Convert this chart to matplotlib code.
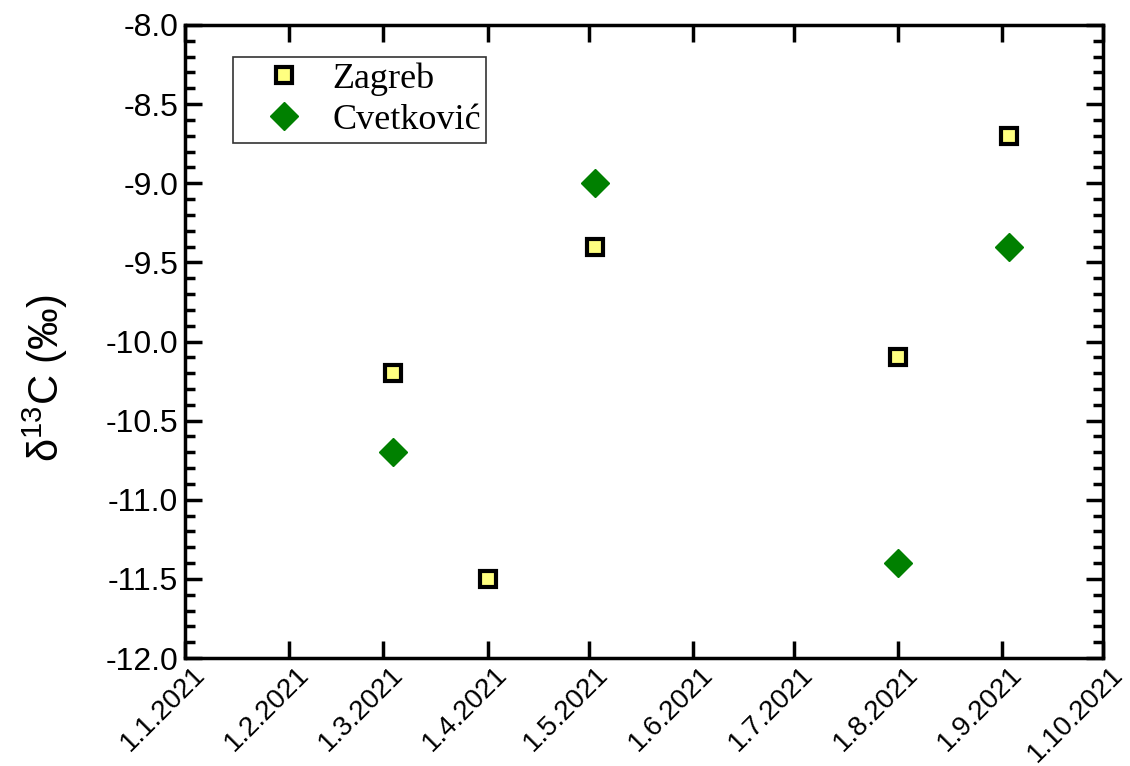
import datetime as dt
import matplotlib
matplotlib.use("Agg")
import matplotlib.pyplot as plt
import matplotlib.dates as mdates
import matplotlib.transforms as mtransforms
from matplotlib.ticker import MultipleLocator, FuncFormatter, FormatStrFormatter

plt.rcParams["mathtext.fontset"] = "custom"
plt.rcParams["mathtext.rm"] = "Liberation Sans"
plt.rcParams["mathtext.it"] = "Liberation Sans"

# data
zagreb_dates = ["2021-03-04", "2021-04-01", "2021-05-03", "2021-08-01", "2021-09-03"]
zagreb_d13c = [-10.2, -11.5, -9.4, -10.1, -8.7]
cvet_dates = ["2021-03-04", "2021-05-03", "2021-08-01", "2021-09-03"]
cvet_d13c = [-10.7, -9.0, -11.4, -9.4]
month_ticks = [dt.date(2021, m, 1) for m in range(1, 11)]


def to_dates(values):
    return [dt.datetime.strptime(v, "%Y-%m-%d") for v in values]


fig = plt.figure(figsize=(11.3, 7.66), dpi=100)
ax = fig.add_axes([185 / 1130, 1 - 658 / 766, 918 / 1130, 633 / 766])

ax.plot(to_dates(zagreb_dates), zagreb_d13c, linestyle="none", marker="s",
        markersize=11, markerfacecolor="#ffff80", markeredgecolor="black",
        markeredgewidth=3, label="Zagreb")
ax.plot(to_dates(cvet_dates), cvet_d13c, linestyle="none", marker="D",
        markersize=14, color="#008000", label="Cvetković")

ax.set_xlim(dt.date(2021, 1, 1), dt.date(2021, 10, 1))
ax.set_ylim(-12.0, -8.0)
ax.set_xticks(month_ticks)
ax.xaxis.set_major_formatter(
    FuncFormatter(lambda x, pos: "{0.day}.{0.month}.{0.year}".format(mdates.num2date(x))))
ax.yaxis.set_major_locator(MultipleLocator(0.5))
ax.yaxis.set_minor_locator(MultipleLocator(0.1))
ax.yaxis.set_major_formatter(FormatStrFormatter("%.1f"))

for side in ax.spines.values():
    side.set_linewidth(2.5)
ax.tick_params(which="both", direction="in", top=True, right=True, width=2.5)
ax.tick_params(which="major", length=12)
ax.tick_params(which="minor", length=7)
ax.tick_params(axis="y", labelsize=23, pad=5)
ax.tick_params(axis="x", labelsize=20, pad=9)

# rotated date labels sit a bit to the right of their ticks
shift = mtransforms.ScaledTranslation(16 / 100, 0, fig.dpi_scale_trans)
for lbl in ax.get_xticklabels() + ax.get_yticklabels():
    lbl.set_fontfamily("Liberation Sans")
for lbl in ax.get_xticklabels():
    lbl.set_rotation(45)
    lbl.set_ha("right")
    lbl.set_va("center")
    lbl.set_rotation_mode("anchor")
    lbl.set_transform(lbl.get_transform() + shift)

ax.set_ylabel(r"$\mathregular{\delta^{13}}$C (‰)", fontsize=30,
              family="Liberation Sans")
ax.yaxis.set_label_coords(-0.125, 0.442)

leg = ax.legend(loc="upper left", bbox_to_anchor=(233 / 1130, 1 - 57 / 766),
                bbox_transform=fig.transFigure, borderaxespad=0,
                fancybox=False, edgecolor="#333333", framealpha=1,
                prop={"family": "Liberation Serif", "size": 26},
                handlelength=2.5, handletextpad=0.1, borderpad=0.15,
                labelspacing=0.22)
leg.get_frame().set_linewidth(1.2)

fig.savefig("out.png", dpi=100)
